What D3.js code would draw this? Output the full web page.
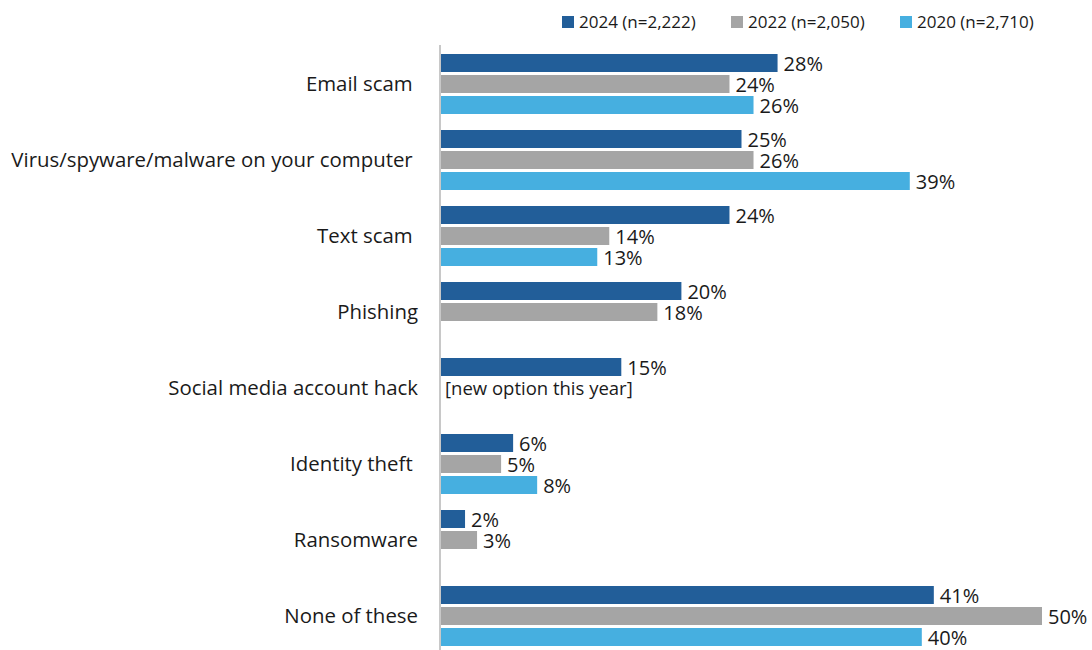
<!DOCTYPE html>
<html>
<head>
<meta charset="utf-8">
<script src="https://cdn.jsdelivr.net/npm/d3@7"></script>
<style>
  html, body { margin: 0; padding: 0; background: #fff; }
  svg text { font-family: "Open Sans", "Noto Sans", sans-serif; fill: #1a1a1a; white-space: pre; }
</style>
</head>
<body>
<svg id="chart" width="1092" height="650"></svg>
<script>
// Incident categories, top to bottom
const categories = [
  "Email scam ",
  "Virus/spyware/malware on your computer ",
  "Text scam ",
  "Phishing",
  "Social media account hack",
  "Identity theft ",
  "Ransomware",
  "None of these"
];

// Survey waves shown in the legend
const seriesNames = ["2024 (n=2,222)", "2022 (n=2,050)", "2020 (n=2,710)"];
const seriesColors = ["#225E99", "#A5A5A5", "#46AFE0"];

// Percent reporting each incident (null = not asked that year)
const values2024 = [28, 25, 24, 20, 15, 6, 2, 41];
const values2022 = [24, 26, 14, 18, null, 5, 3, 50];
const values2020 = [26, 39, 13, null, null, 8, null, 40];
const seriesValues = [values2024, values2022, values2020];

const notes = { "Social media account hack": "[new option this year]" };

const svg = d3.select("#chart");

const x = d3.scaleLinear().domain([0, 50]).range([441, 1042]);
const y = d3.scaleBand().domain(categories).range([46, 654]);
const ySub = d3.scaleBand().domain(d3.range(3)).range([8, 68]).paddingInner(1 / 7);

// Bars and value labels
categories.forEach((cat, ci) => {
  const g = svg.append("g").attr("transform", `translate(0,${y(cat)})`);
  seriesValues.forEach((vals, si) => {
    const v = vals[ci];
    if (v == null) return;
    g.append("rect")
      .attr("x", x(0))
      .attr("y", ySub(si))
      .attr("width", x(v) - x(0))
      .attr("height", ySub.bandwidth())
      .attr("fill", seriesColors[si]);
    g.append("text")
      .attr("x", x(v) + 6)
      .attr("y", ySub(si) + ySub.bandwidth() / 2 + 1)
      .attr("dy", "0.36em")
      .style("font-size", "20px")
      .text(v + "%");
  });
  const note = notes[cat.trim()];
  if (note) {
    g.append("text")
      .attr("x", x(0) + 4)
      .attr("y", ySub(1) + ySub.bandwidth() / 2)
      .attr("dy", "0.36em")
      .style("font-size", "18.5px")
      .text(note);
  }
});

// Category axis
const axis = d3.axisLeft(y).tickSize(0).tickPadding(22);
const ag = svg.append("g").attr("transform", `translate(${x(0) - 1},0)`).call(axis);
ag.select(".domain").remove();
ag.selectAll("text").style("font-size", "20.4px").style("font-family", null).attr("fill", "#1a1a1a");
svg.append("line")
  .attr("x1", x(0) - 1).attr("x2", x(0) - 1)
  .attr("y1", 45).attr("y2", 650)
  .attr("stroke", "#c8c8c8").attr("stroke-width", 2);

// Legend
const legendX = [562, 731, 900];
const lg = svg.append("g");
seriesNames.forEach((name, i) => {
  lg.append("rect")
    .attr("x", legendX[i]).attr("y", 16)
    .attr("width", 12).attr("height", 12)
    .attr("fill", seriesColors[i]);
  lg.append("text")
    .attr("x", legendX[i] + 17).attr("y", 22)
    .attr("dy", "0.36em")
    .style("font-size", "17px")
    .text(name);
});
</script>
</body>
</html>
